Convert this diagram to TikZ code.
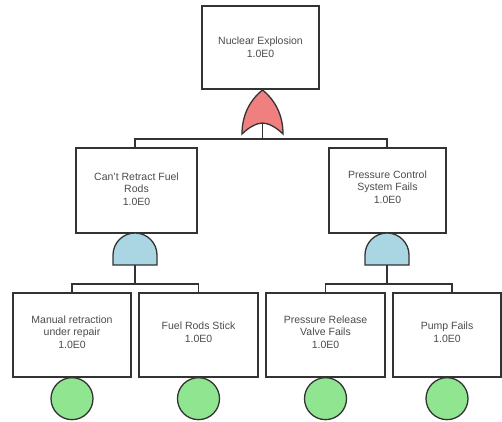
\documentclass[tikz,border=0pt]{standalone}
\usepackage{fontspec}
\setmainfont{Liberation Sans}
\definecolor{orred}{RGB}{240,128,128}
\definecolor{andblue}{RGB}{170,214,228}
\definecolor{evgreen}{RGB}{144,230,144}
\begin{document}
\begin{tikzpicture}[x=1pt,y=-1pt,
  ev/.style={draw=black!80,line width=1.3pt,fill=white,minimum width=#1},
  lbl/.style={text=black!70,font=\fontsize{10.5}{12.5}\selectfont,align=center,inner sep=0pt},
  ln/.style={draw=black!80,line width=1.2pt},
  gate/.style={draw=black!80,line width=1.3pt}]
\useasboundingbox (0,0) rectangle (502,421);
% boxes
\node[ev=117pt,minimum height=83pt] (top) at (260.5,47.5) {};
\node[lbl] (toptxt) at (260.5,47) {Nuclear Explosion\\1.0E0};
\node[ev=121pt,minimum height=85pt] (l) at (136.5,190.5) {};
\node[lbl] (ltxt) at (136.5,189) {Can't Retract Fuel\\Rods\\1.0E0};
\node[ev=117pt,minimum height=85pt] (r) at (387.5,190.5) {};
\node[lbl] (rtxt) at (387.5,187) {Pressure Control\\System Fails\\1.0E0};
\node[ev=118pt,minimum height=84pt] (a) at (72,335) {};
\node[lbl] (atxt) at (72,332) {Manual retraction\\under repair\\1.0E0};
\node[ev=119pt,minimum height=84pt] (b) at (198.5,335) {};
\node[lbl] (btxt) at (198.5,332) {Fuel Rods Stick\\1.0E0};
\node[ev=119pt,minimum height=84pt] (c) at (325.5,335) {};
\node[lbl] (ctxt) at (325.5,332) {Pressure Release\\Valve Fails\\1.0E0};
\node[ev=108pt,minimum height=84pt] (d) at (447,335) {};
\node[lbl] (dtxt) at (447,332) {Pump Fails\\1.0E0};
% OR gate
\coordinate (orbot) at (262.5,123);
\draw[gate,fill=orred] (262.5,90) .. controls (275,100) and (283,115) .. (283,134)
  .. controls (276,127) and (268,123) .. (orbot)
  .. controls (257,123) and (249,127) .. (242,134)
  .. controls (242,115) and (250,100) .. (262.5,90) -- cycle;
% AND gates
\foreach \n/\cx in {gl/135,gr/387}{
  \draw[gate,fill=andblue] (\cx-22,265) -- (\cx-22,255) arc[start angle=180,end angle=360,radius=22] -- (\cx+22,265) -- cycle;
  \coordinate (\n) at (\cx,265);
}
% connectors
\coordinate (bus) at (262.5,139);
\draw[ln] (orbot) -- (bus);
\draw[ln] (l.north -| gl) |- (bus) -| (r.north -| gr);
\draw[ln] (gl) -- (135,284) coordinate (busl);
\draw[ln] (a.north) |- (busl) -| (b.north);
\draw[ln] (gr) -- (387,284) coordinate (busr);
\draw[ln] (c.north) |- (busr) -| (452,293);
% basic event circles
\foreach \n in {a,b,c,d}{
  \draw[gate,fill=evgreen] ([yshift=-21pt]\n.south) circle[radius=21pt];
}
\end{tikzpicture}
\end{document}
